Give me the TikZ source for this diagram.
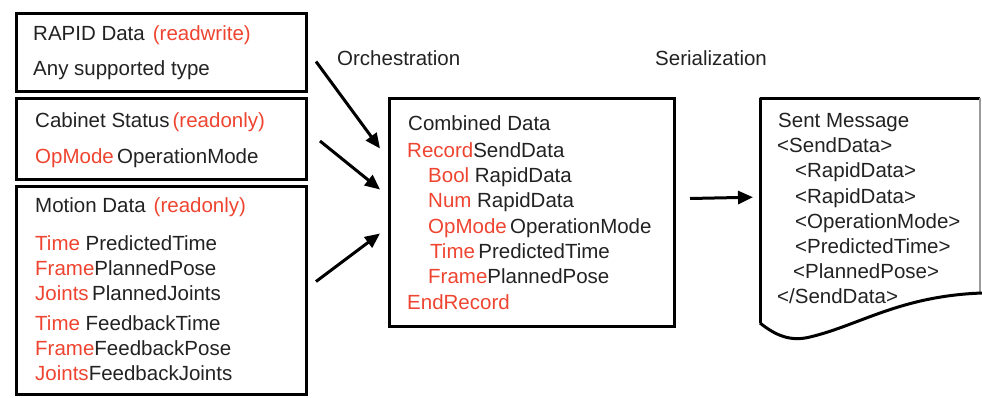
\documentclass[tikz,border=0pt]{standalone}
\usepackage{fontspec}
\setmainfont{Liberation Sans}
\usepackage{tikz}
\usetikzlibrary{arrows.meta}
\definecolor{redc}{HTML}{EE4430}
\definecolor{textc}{HTML}{222222}
\definecolor{edgec}{HTML}{9A9A9A}
\newcommand{\rd}[1]{\textcolor{redc}{#1}}

\begin{document}
\begin{tikzpicture}[x=1pt, y=-1pt,
  box/.style={draw, line width=3pt, anchor=north west, inner sep=0pt},
  txt/.style={anchor=base west, inner sep=0pt, text=textc, font=\fontsize{20.5}{24}\selectfont},
  arr/.style={-{Triangle[length=15pt,width=13pt]}, line width=3pt}]
  \useasboundingbox (0,0) rectangle (982,397);

  % input boxes
  \node[box, minimum width=290pt, minimum height=78pt] (rapid) at (15,12) {};
  \node[box, minimum width=290pt, minimum height=81pt] (cabinet) at (15,97) {};
  \node[box, minimum width=290pt, minimum height=208pt] (motion) at (15,185) {};
  \node[box, minimum width=285pt, minimum height=228pt] (comb) at (388,97) {};
  \node[anchor=north west, inner sep=0pt, minimum width=220pt, minimum height=225pt] (sent) at (760,98) {};

  % sent message sheet
  \draw[line width=3pt, line join=round] (760,323) -- (760,98) -- (980,98);
  \draw[edgec, line width=1.2pt] (980,98) -- (980,293);
  \draw[line width=3pt] (760,323) .. controls (775,335) and (790,342) .. (810,337)
    .. controls (860,325) and (900,296) .. (982,293);

  \node[txt] (rapidtitle) at (33,40) {RAPID Data\hspace{8pt}\rd{(readwrite)}};
  \node[txt] (rapidtype) at (33,75) {Any supported type};

  \node[txt] (cabtitle) at (35,127) {Cabinet Status\hspace{3pt}\rd{(readonly)}};
  \node[txt] (cabmode) at (35,163) {\rd{OpMode}\,OperationMode};

  \node[txt] (mottitle) at (35,212) {Motion Data\hspace{8pt}\rd{(readonly)}};
  \node[txt] (mot1) at (35,250) {\rd{Time} PredictedTime};
  \node[txt] (mot2) at (35,275) {\rd{Frame}PlannedPose};
  \node[txt] (mot3) at (35,300) {\rd{Joints}\,PlannedJoints};
  \node[txt] (mot4) at (35,330) {\rd{Time} FeedbackTime};
  \node[txt] (mot5) at (35,355) {\rd{Frame}FeedbackPose};
  \node[txt] (mot6) at (35,380) {\rd{Joints}FeedbackJoints};

  \node[txt] (orch) at (337,65) {Orchestration};
  \node[txt] (serial) at (655,65) {Serialization};

  \node[txt] (combtitle) at (408,130) {Combined Data};
  \node[txt] (comb1) at (407,157) {\rd{Record}SendData};
  \node[txt] (comb2) at (428,182) {\rd{Bool} RapidData};
  \node[txt] (comb3) at (428,207) {\rd{Num} RapidData};
  \node[txt] (comb4) at (428,233) {\rd{OpMode}\,OperationMode};
  \node[txt] (comb5) at (430,258) {\rd{Time}\,PredictedTime};
  \node[txt] (comb6) at (428,283) {\rd{Frame}PlannedPose};
  \node[txt] (comb7) at (407,309) {\rd{EndRecord}};

  \node[txt] (senttitle) at (778,127) {Sent Message};
  \node[txt] (sent1) at (777,152) {<SendData>};
  \node[txt] (sent2) at (795,177) {<RapidData>};
  \node[txt] (sent3) at (795,203) {<RapidData>};
  \node[txt] (sent4) at (795,228) {<OperationMode>};
  \node[txt] (sent5) at (795,253) {<PredictedTime>};
  \node[txt] (sent6) at (793,278) {<PlannedPose>};
  \node[txt] (sent7) at (777,303) {</SendData>};

  % arrows
  \draw[arr] ([xshift=8pt,yshift=-9pt]rapid.east) -- ([xshift=-8pt,yshift=64pt]comb.west);
  \draw[arr] ([xshift=12pt,yshift=-2pt]cabinet.east) -- ([xshift=-8pt,yshift=23pt]comb.west);
  \draw[arr] ([xshift=8pt,yshift=9pt]motion.east) -- ([xshift=-8pt,yshift=-21pt]comb.west);
  \draw[arr] ([xshift=14pt,yshift=14pt]comb.east) -- ([xshift=-7pt,yshift=13.5pt]sent.west);
\end{tikzpicture}
\end{document}
